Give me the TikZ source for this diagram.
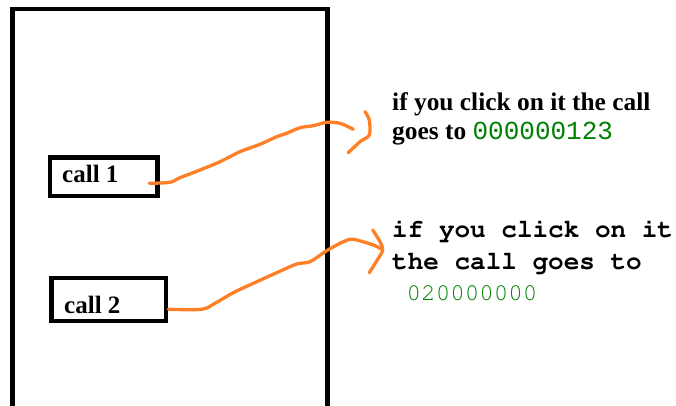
\documentclass[tikz,border=0pt]{standalone}
\usepackage[T1,TU]{fontenc}
\usepackage{fontspec}
\setmainfont{Liberation Serif}
\newfontfamily\digitfont{Liberation Mono}
\newcommand{\courierbf}{\fontencoding{T1}\fontfamily{pcr}\fontseries{b}\selectfont}
\newcommand{\courierrm}{\fontencoding{T1}\fontfamily{pcr}\fontseries{m}\selectfont}
\usepackage{xcolor,tikz}
\usetikzlibrary{positioning}
\definecolor{penorange}{RGB}{255,127,39}
\definecolor{callgreen}{RGB}{0,128,0}

\begin{document}
\begin{tikzpicture}[x=1pt,y=-1pt,
  callbox/.style={draw,line width=4.5pt,inner sep=0pt},
  calltext/.style={anchor=base west,inner sep=0pt,font=\fontsize{25}{29}\selectfont\bfseries},
  serifline/.style={anchor=base west,inner sep=0pt,font=\fontsize{25.4}{29}\selectfont\bfseries},
  monoline/.style={anchor=base west,inner sep=0pt,font=\fontsize{26}{31}\selectfont\courierbf},
  pen/.style={draw=penorange,line width=3.3pt,line cap=round,line join=round}]
\useasboundingbox (0,0) rectangle (676,406);

% ---- the phone screen
\draw[line width=4.5pt,line join=miter] (12.5,406) -- (12.5,8.9) -- (327.5,8.9) -- (327.5,406);

% ---- the two buttons
\node[callbox,minimum width=107.7pt,minimum height=38.4pt] (box1) at (103.85,176.8) {};
\node[calltext] (call1) at (62,182) {call 1};
\node[callbox,minimum width=114.7pt,minimum height=43pt] (box2) at (108.65,299.5) {};
\node[calltext] (call2) at (64,313) {call 2};

% ---- what the first button does
\node[serifline] (say1a) at (392,110.7) {if you click on it the call};
\node[serifline] (say1b) at (392,139.5) {goes to \textcolor{callgreen}{\digitfont\mdseries\fontsize{26}{29}\selectfont 000000123}};

% ---- what the second button does
\node[monoline] (say2a) at (392,237.3) {if you click on it};
\node[monoline] (say2b) at (392,269.3) {the call goes to};
\node[monoline,font=\fontsize{24.2}{31}\selectfont\courierrm,text=callgreen] (say2c) at (392,300) {\ 020000000};

% ---- hand drawn strokes
\coordinate (c1from) at (149.3,183.3);
\coordinate (c1to)   at (353.3,129.3);
\coordinate (c2from) at (168.3,309.3);
\coordinate (c2to)   at (381.7,249.3);
\draw[pen] plot[smooth,tension=0.5] coordinates {(c1from) (170,182.3) (180,177.7) (200,170)
  (220,161.7) (240,151.7) (260,144.3) (276.7,136.7) (286.7,133.3) (300,127.7) (313.3,125.7)
  (326.7,122.3) (340,123.3) (c1to)};
\draw[pen] plot[smooth,tension=0.5] coordinates {(365,111.7) (369.3,120) (369.3,135) (360,141.7) (348.3,152.7)};
\draw[pen] plot[smooth,tension=0.5] coordinates {(c2from) (201.7,309.3) (215,303.3) (233.3,292.7)
  (253.3,283.3) (276.7,272.7) (296.7,264) (310,261.7) (326.7,250.7) (343.3,241.7) (353.3,239.3)
  (373.3,245) (c2to)};
\draw[pen] plot[smooth,tension=0.5] coordinates {(372.7,230) (380,241.7) (382.7,250) (378.3,258.3) (369.3,272.7)};
\end{tikzpicture}
\end{document}
